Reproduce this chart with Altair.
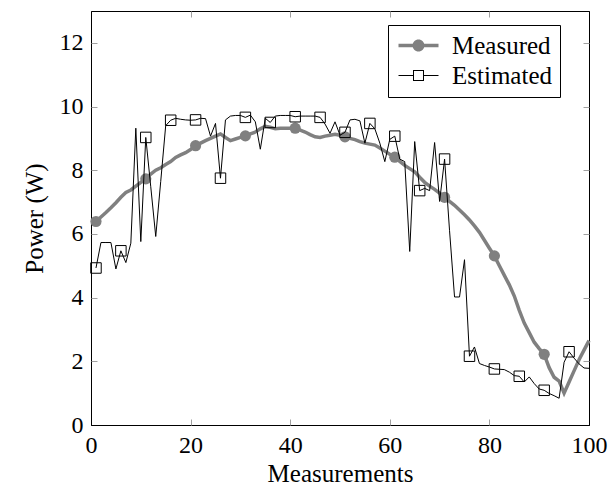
import altair as alt
import pandas as pd

# ---- data ----
x_values = list(range(1, 101))

measured = [
    6.39, 6.53, 6.67, 6.82, 6.98, 7.15, 7.30, 7.38, 7.50, 7.62,
    7.73, 7.88, 8.00, 8.08, 8.18, 8.27, 8.40, 8.48, 8.55, 8.65,
    8.77, 8.85, 8.93, 9.00, 9.07, 9.14, 9.03, 8.93, 8.98, 9.03,
    9.08, 9.14, 9.20, 9.30, 9.38, 9.35, 9.30, 9.32, 9.32, 9.32,
    9.32, 9.26, 9.20, 9.12, 9.05, 9.03, 9.07, 9.10, 9.13, 9.10,
    9.05, 9.00, 8.96, 8.90, 8.85, 8.82, 8.79, 8.70, 8.60, 8.50,
    8.41, 8.28, 8.15, 8.05, 7.95, 7.78, 7.62, 7.50, 7.40, 7.28,
    7.15, 7.02, 6.90, 6.75, 6.60, 6.44, 6.25, 6.05, 5.80, 5.55,
    5.31, 5.00, 4.70, 4.40, 4.05, 3.60, 3.20, 2.90, 2.60, 2.40,
    2.22, 1.80, 1.50, 1.38, 1.00, 1.35, 1.70, 2.05, 2.35, 2.65,
]

estimated = [
    4.93, 5.73, 5.73, 5.73, 4.90, 5.47, 5.10, 5.71, 9.32, 5.76,
    9.03, 7.48, 5.92, 7.65, 9.40, 9.57, 9.63, 9.60, 9.58, 9.57,
    9.58, 9.63, 9.62, 9.07, 9.47, 7.75, 9.58, 9.70, 9.72, 9.72,
    9.66, 9.73, 9.52, 8.66, 9.63, 9.50, 9.70, 9.72, 9.72, 9.72,
    9.68, 9.70, 9.70, 9.70, 9.70, 9.66, 9.45, 9.16, 9.52, 9.10,
    9.19, 9.58, 9.60, 9.55, 8.85, 9.47, 9.30, 8.85, 8.27, 8.97,
    9.07, 8.35, 8.27, 5.45, 8.90, 7.36, 7.43, 7.36, 8.87, 7.02,
    8.35, 6.10, 4.02, 4.02, 5.19, 2.16, 2.45, 1.93, 1.87, 1.82,
    1.76, 1.75, 1.74, 1.66, 1.55, 1.53, 1.35, 1.51, 1.30, 1.13,
    1.09, 0.99, 0.92, 0.84, 1.97, 2.30, 2.10, 1.92, 1.79, 1.78,
]

x_ticks = [0, 20, 40, 60, 80, 100]
y_ticks = [0, 2, 4, 6, 8, 10, 12]
series_names = ["Measured", "Estimated"]
series_colors = ["#808080", "#000000"]

df = pd.DataFrame({
    "x": x_values + x_values,
    "value": measured + estimated,
    "series": ["Measured"] * len(measured) + ["Estimated"] * len(estimated),
})

FONT = "'Liberation Serif', 'DejaVu Serif', serif"
GREY = "#808080"
TICK_GREY = "#a0a0a0"

x_scale = alt.Scale(domain=[0, 100], nice=False, zero=False)
y_scale = alt.Scale(domain=[0, 13], nice=False, zero=False)

tick_color = {
    "condition": {"test": "datum.value == 0 || datum.value == 100", "value": "black"},
    "value": TICK_GREY,
}

common_axis = dict(offset=-6, tickSize=6, tickWidth=1, tickColor=tick_color,
                   domain=False, grid=False, labelFlush=False, labelOverlap=False,
                   labelFont=FONT, labelFontSize=24, labelColor="black",
                   titleFont=FONT, titleFontSize=25, titleColor="black",
                   titleFontWeight="normal")

ax_bottom = alt.Axis(orient="bottom", values=x_ticks, labelPadding=8,
                     title="Measurements", titlePadding=4, **common_axis)
ax_left = alt.Axis(orient="left", values=y_ticks, labelPadding=8,
                   title="Power (W)", titlePadding=12, **common_axis)
ax_top = alt.Axis(orient="top", values=x_ticks, labels=False, title="", **common_axis)
ax_right = alt.Axis(orient="right", values=y_ticks, labels=False, title="", **common_axis)

# legend symbols: line sample with marker (filled geometry)
path_measured = ("M-1,-0.175L3,-0.175L3,0.175L-1,0.175Z "
                 "M1.6,0A0.6,0.6 0 1,1 0.4,0A0.6,0.6 0 1,1 1.6,0Z")
path_estimated = ("M-1,-0.05L0.45,-0.05L0.45,0.05L-1,0.05Z "
                  "M1.55,-0.05L3,-0.05L3,0.05L1.55,0.05Z "
                  "M0.45,-0.55L1.55,-0.55L1.55,0.55L0.45,0.55Z "
                  "M0.55,-0.45L0.55,0.45L1.45,0.45L1.45,-0.45Z")

leg = alt.Legend(
    title=None, orient="none", legendX=297, legendY=14,
    padding=8, strokeColor="black", fillColor="white", cornerRadius=0,
    symbolSize=400, symbolStrokeWidth=0, symbolOpacity=1,
    labelFont=FONT, labelFontSize=25, labelColor="black",
    labelOffset=31, rowPadding=4, labelLimit=300,
)

base = alt.Chart(df)
meas = base.transform_filter(alt.datum.series == "Measured")
est = base.transform_filter(alt.datum.series == "Estimated")

meas_line = meas.mark_line(color=GREY, strokeWidth=3.5).encode(
    x=alt.X("x:Q", scale=x_scale, axis=ax_bottom),
    y=alt.Y("value:Q", scale=y_scale, axis=ax_left),
)
meas_pts = meas.transform_filter("(datum.x - 1) % 10 == 0").mark_point(
    filled=True, color=GREY, size=125, opacity=1, shape="circle"
).encode(
    x=alt.X("x:Q", scale=x_scale, axis=ax_top),
    y=alt.Y("value:Q", scale=y_scale, axis=ax_right),
)
est_line = est.mark_line(color="black", strokeWidth=1).encode(
    x=alt.X("x:Q", scale=x_scale, axis=None),
    y=alt.Y("value:Q", scale=y_scale, axis=None),
)
est_pts = est.transform_filter("(datum.x - 1) % 5 == 0").mark_point(
    filled=False, color="black", strokeWidth=1, size=110, opacity=1, shape="square"
).encode(
    x=alt.X("x:Q", scale=x_scale, axis=None),
    y=alt.Y("value:Q", scale=y_scale, axis=None),
)
legend_layer = base.transform_filter("datum.x < 0").mark_point(
    filled=True, opacity=1, size=400
).encode(
    color=alt.Color("series:N", scale=alt.Scale(domain=series_names, range=series_colors), legend=leg),
    shape=alt.Shape("series:N", scale=alt.Scale(domain=series_names, range=[path_measured, path_estimated]), legend=leg),
)

chart = alt.layer(meas_line, meas_pts, est_line, est_pts, legend_layer).resolve_axis(
    x="independent", y="independent"
).properties(
    width=498, height=414,
    background="white",
    autosize=alt.AutoSizeParams(type="none"),
    padding={"left": 83, "top": 3, "right": 19, "bottom": 64},
).configure_view(
    stroke="black", strokeWidth=1
)

chart.save("out.html", embed_options={"renderer": "svg", "actions": False})
